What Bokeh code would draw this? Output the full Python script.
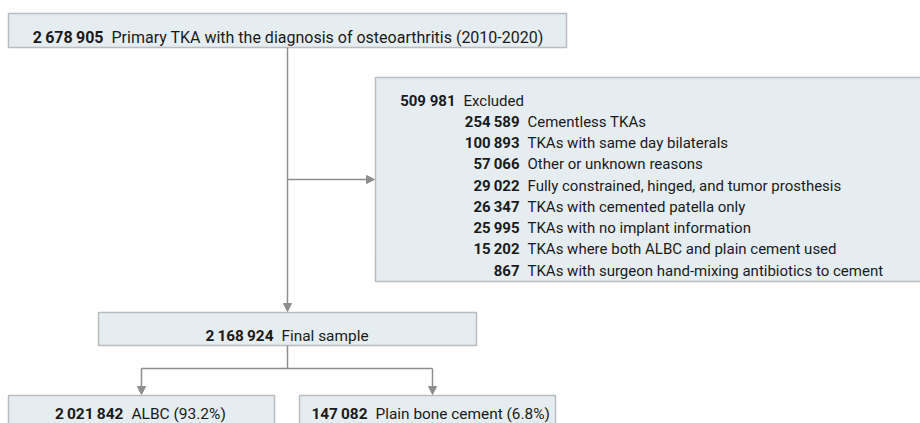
from bokeh.plotting import figure
from bokeh.models import Range1d, Arrow, NormalHead, ColumnDataSource
from bokeh.core.properties import value
from bokeh.embed import file_html
from bokeh.resources import INLINE

# ---- data ----
total_n = 2678905
total_label = "Primary TKA with the diagnosis of osteoarthritis (2010-2020)"
excluded_n = 509981
excluded_label = "Excluded"
reason_n = [254589, 100893, 57066, 29022, 26347, 25995, 15202, 867]
reason_labels = [
    "Cementless TKAs",
    "TKAs with same day bilaterals",
    "Other or unknown reasons",
    "Fully constrained, hinged, and tumor prosthesis",
    "TKAs with cemented patella only",
    "TKAs with no implant information",
    "TKAs where both ALBC and plain cement used",
    "TKAs with surgeon hand-mixing antibiotics to cement",
]
final_n = 2168924
final_label = "Final sample"
group_n = [2021842, 147082]
group_labels = ["ALBC (93.2%)", "Plain bone cement (6.8%)"]


def fmt(n, sep="\u2009"):
    s = f"{n:,}"
    return s.replace(",", sep)


FONT = value("Roboto")
FILL = "#e6edf1"
BORDER = "#b9bdc0"
LINE = "#8e8e8e"
TXT = "#1a1a1a"

W, H = 920, 423
p = figure(width=W, height=H, x_range=Range1d(0, W), y_range=Range1d(H, 0),
           output_backend="svg", toolbar_location=None, min_border=0,
           outline_line_color=None, background_fill_color="white",
           border_fill_color="white")
p.axis.visible = False
p.grid.visible = False

# ---- boxes ----
boxes = ColumnDataSource(dict(
    left=[8, 375, 98, 8, 299],
    right=[566, 950, 476, 274, 555],
    top=[13, 77, 312, 395, 395],
    bottom=[47, 281, 345, 450, 450],
))
p.quad(left="left", right="right", top="top", bottom="bottom", source=boxes,
       fill_color=FILL, line_color=BORDER, line_width=1.5)

# ---- connectors ----
p.segment(x0=[287, 141], y0=[345, 368], x1=[287, 432], y1=[368, 368],
          line_color=LINE, line_width=1.5)
head = dict(size=8, fill_color=LINE, line_color=LINE)
for (x0, y0, x1, y1) in [(287, 47, 287, 311), (287, 179, 374, 179),
                         (141, 368, 141, 394), (432, 368, 432, 394)]:
    p.add_layout(Arrow(end=NormalHead(**head), x_start=x0, y_start=y0, x_end=x1, y_end=y1,
                       line_color=LINE, line_width=1.5))

# ---- texts ----
num = dict(x=[], y=[], t=[], fs=[])
lab = dict(x=[], y=[], t=[], fs=[])


def add(anchor, y, n, label, fs, sep="\u2009"):
    num["x"].append(anchor); num["y"].append(y); num["t"].append(fmt(n, sep)); num["fs"].append(fs)
    lab["x"].append(anchor + 8); lab["y"].append(y); lab["t"].append(label); lab["fs"].append(fs)


add(103, 37, total_n, total_label, "16px")
add(455, 100, excluded_n, excluded_label, "15px", sep=" ")
for i, (n, lb) in enumerate(zip(reason_n, reason_labels)):
    add(519, 121.25 + 21.25 * i, n, lb, "15px")
add(273, 335, final_n, final_label, "15.4px")
add(123, 413, group_n[0], group_labels[0], "15.5px")
add(367, 413, group_n[1], group_labels[1], "15.4px")

p.text(x="x", y="y", text="t", text_font_size="fs", source=ColumnDataSource(num),
       text_font=FONT, text_font_style="bold", text_align="right",
       text_baseline="alphabetic", text_color=TXT)
p.text(x="x", y="y", text="t", text_font_size="fs", source=ColumnDataSource(lab),
       text_font=FONT, text_align="left", text_baseline="alphabetic", text_color=TXT)

open("out.html", "w").write(file_html(p, INLINE))
